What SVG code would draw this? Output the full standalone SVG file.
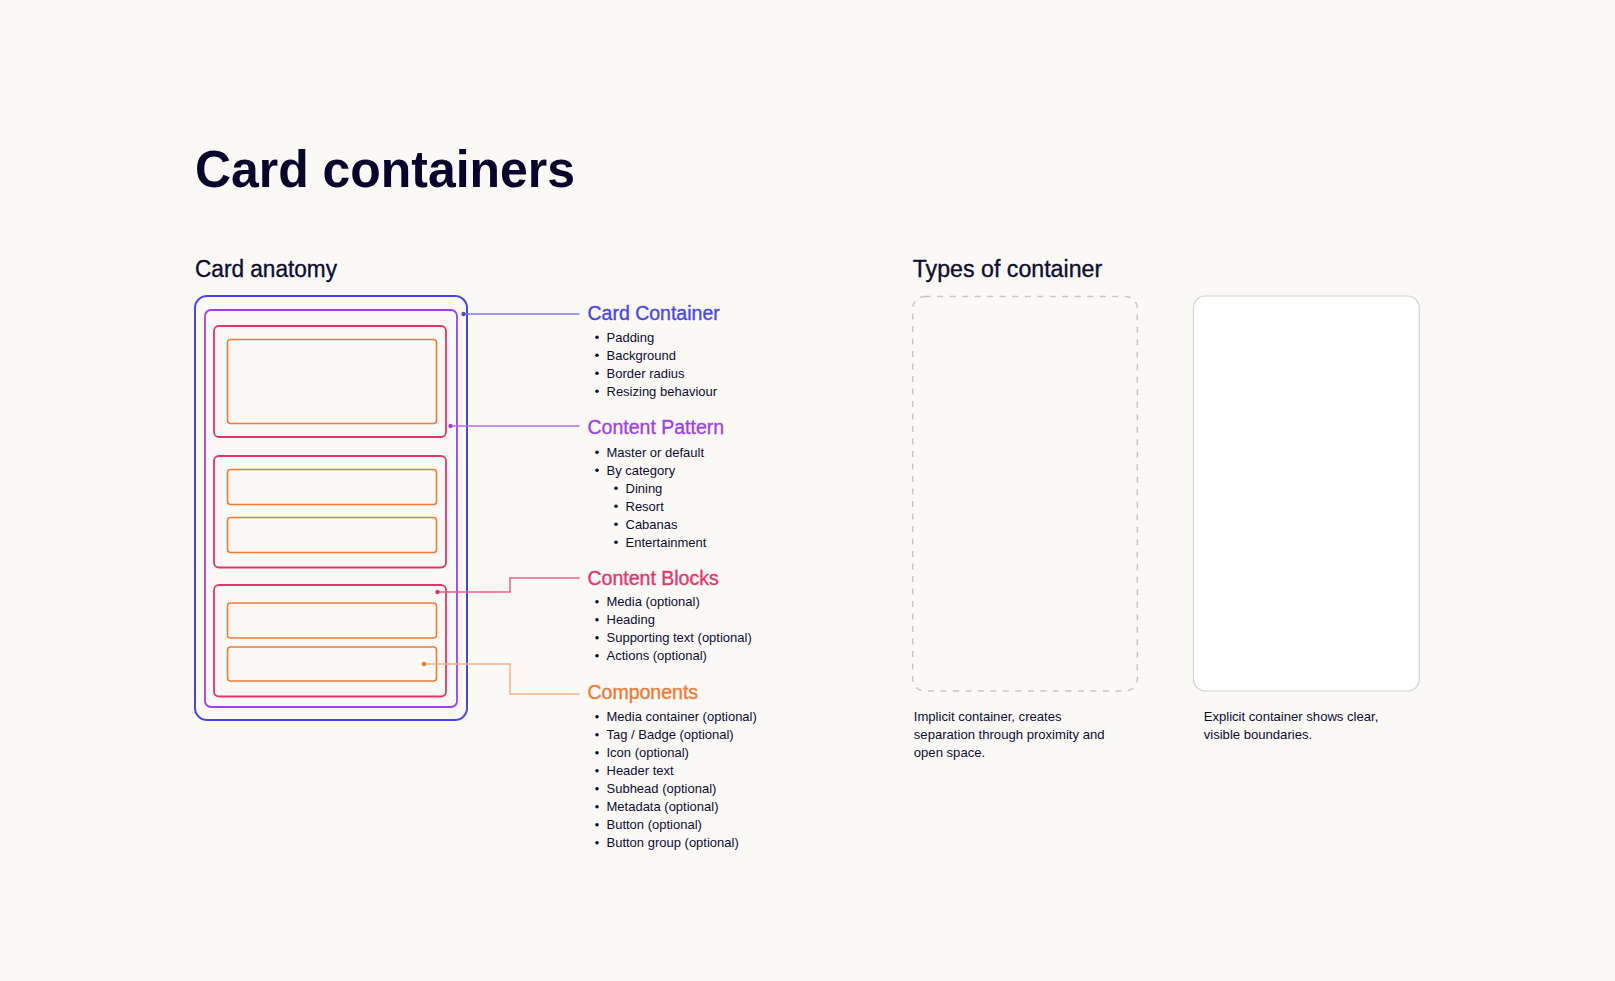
<svg xmlns="http://www.w3.org/2000/svg" width="1615" height="981" viewBox="0 0 1615 981">
<style>
text{font-family:"Liberation Sans",Arial,sans-serif;fill:#0e0d31}
.title{font-size:52px;font-weight:bold;fill:#07052c}
.h2{font-size:23px;stroke:#0e0d31;stroke-width:0.35}
.lbl{font-size:19.5px;stroke-width:0.35}
.b{font-size:13px}
.cap{font-size:13.1px}
circle.bul{fill:#0e0d31}
.conn{fill:none;stroke-width:1.5}
</style>
<rect x="0" y="0" width="1615" height="981" fill="#faf9f6"/>
<text class="title" x="195" y="186.5" textLength="380" lengthAdjust="spacingAndGlyphs">Card containers</text>
<text class="h2" x="195" y="276.7" textLength="142" lengthAdjust="spacingAndGlyphs">Card anatomy</text>
<text class="h2" x="912.7" y="276.7" textLength="189.5" lengthAdjust="spacingAndGlyphs">Types of container</text>

<g id="card-anatomy">
<rect x="195" y="296" width="272" height="424" rx="12" fill="none" stroke="#4b46e6" stroke-width="2"/>
<rect x="205" y="310" width="252" height="397" rx="6" fill="none" stroke="#a23fe6" stroke-width="1.8"/>
<rect x="214" y="326" width="232" height="111" rx="5" fill="none" stroke="#e6336e" stroke-width="1.8"/>
<rect x="227.5" y="339.5" width="209" height="84" rx="3" fill="none" stroke="#ee7a34" stroke-width="1.6"/>
<rect x="214" y="456" width="232" height="111.5" rx="5" fill="none" stroke="#e6336e" stroke-width="1.8"/>
<rect x="227.5" y="469.5" width="209" height="35" rx="3" fill="none" stroke="#ee7a34" stroke-width="1.6"/>
<rect x="227.5" y="517.5" width="209" height="35" rx="3" fill="none" stroke="#ee7a34" stroke-width="1.6"/>
<rect x="214" y="585" width="232" height="111.5" rx="5" fill="none" stroke="#e6336e" stroke-width="1.8"/>
<rect x="227.5" y="603" width="209" height="35" rx="3" fill="none" stroke="#ee7a34" stroke-width="1.6"/>
<rect x="227.5" y="647" width="209" height="34" rx="3" fill="none" stroke="#ee7a34" stroke-width="1.6"/>
</g>

<g id="connectors">
<polyline class="conn" points="463.5,314 579.5,314" stroke="#7b78ee"/>
<circle cx="463.5" cy="314" r="2.2" fill="#4b46e6"/>
<polyline class="conn" points="450.5,426 579.5,426" stroke="#b46bee"/>
<circle cx="450.5" cy="426" r="2.2" fill="#a23fe6"/>
<polyline class="conn" points="437.5,592 510,592 510,578 579.5,578" stroke="#ec5f8e"/>
<circle cx="437.5" cy="592" r="2.2" fill="#e6336e"/>
<polyline class="conn" points="424,664 510,664 510,694 579.5,694" stroke="#f4b088"/>
<circle cx="424" cy="664" r="2.2" fill="#ee7a34"/>
</g>

<g id="card-container-label">
<text class="lbl" x="587.5" y="320" stroke="#4b46e6" style="fill:#4b46e6">Card Container</text>
<circle class="bul" cx="597" cy="337.3" r="1.8"/><text class="b" x="606.5" y="341.7">Padding</text>
<circle class="bul" cx="597" cy="355.3" r="1.8"/><text class="b" x="606.5" y="359.7">Background</text>
<circle class="bul" cx="597" cy="373.3" r="1.8"/><text class="b" x="606.5" y="377.7">Border radius</text>
<circle class="bul" cx="597" cy="391.3" r="1.8"/><text class="b" x="606.5" y="395.7">Resizing behaviour</text>
</g>

<g id="content-pattern-label">
<text class="lbl" x="587.5" y="434" stroke="#a23fe6" style="fill:#a23fe6">Content Pattern</text>
<circle class="bul" cx="597" cy="452.3" r="1.8"/><text class="b" x="606.5" y="456.7">Master or default</text>
<circle class="bul" cx="597" cy="470.3" r="1.8"/><text class="b" x="606.5" y="474.7">By category</text>
<circle class="bul" cx="616" cy="488.3" r="1.8"/><text class="b" x="625.5" y="492.7">Dining</text>
<circle class="bul" cx="616" cy="506.3" r="1.8"/><text class="b" x="625.5" y="510.7">Resort</text>
<circle class="bul" cx="616" cy="524.3" r="1.8"/><text class="b" x="625.5" y="528.7">Cabanas</text>
<circle class="bul" cx="616" cy="542.3" r="1.8"/><text class="b" x="625.5" y="546.7">Entertainment</text>
</g>

<g id="content-blocks-label">
<text class="lbl" x="587.5" y="584.5" stroke="#e6336e" style="fill:#e6336e">Content Blocks</text>
<circle class="bul" cx="597" cy="601.7" r="1.8"/><text class="b" x="606.5" y="606">Media (optional)</text>
<circle class="bul" cx="597" cy="619.7" r="1.8"/><text class="b" x="606.5" y="624">Heading</text>
<circle class="bul" cx="597" cy="637.7" r="1.8"/><text class="b" x="606.5" y="642">Supporting text (optional)</text>
<circle class="bul" cx="597" cy="655.7" r="1.8"/><text class="b" x="606.5" y="660">Actions (optional)</text>
</g>

<g id="components-label">
<text class="lbl" x="587.5" y="699" stroke="#ee7a34" style="fill:#ee7a34">Components</text>
<circle class="bul" cx="597" cy="716.7" r="1.8"/><text class="b" x="606.5" y="721">Media container (optional)</text>
<circle class="bul" cx="597" cy="734.7" r="1.8"/><text class="b" x="606.5" y="739">Tag / Badge (optional)</text>
<circle class="bul" cx="597" cy="752.7" r="1.8"/><text class="b" x="606.5" y="757">Icon (optional)</text>
<circle class="bul" cx="597" cy="770.7" r="1.8"/><text class="b" x="606.5" y="775">Header text</text>
<circle class="bul" cx="597" cy="788.7" r="1.8"/><text class="b" x="606.5" y="793">Subhead (optional)</text>
<circle class="bul" cx="597" cy="806.7" r="1.8"/><text class="b" x="606.5" y="811">Metadata (optional)</text>
<circle class="bul" cx="597" cy="824.7" r="1.8"/><text class="b" x="606.5" y="829">Button (optional)</text>
<circle class="bul" cx="597" cy="842.7" r="1.8"/><text class="b" x="606.5" y="847">Button group (optional)</text>
</g>

<g id="implicit-container">
<rect x="912.7" y="296.5" width="224.6" height="394.5" rx="12" fill="none" stroke="#c7c5ca" stroke-width="1.5" stroke-dasharray="6 6.5"/>
<text class="cap" x="913.8" y="721">Implicit container, creates</text>
<text class="cap" x="913.8" y="739">separation through proximity and</text>
<text class="cap" x="913.8" y="757">open space.</text>
</g>

<g id="explicit-container">
<rect x="1193.5" y="296" width="225.8" height="395" rx="12" fill="#ffffff" stroke="#d4d3d6" stroke-width="1.2"/>
<text class="cap" x="1203.7" y="721">Explicit container shows clear,</text>
<text class="cap" x="1203.7" y="739">visible boundaries.</text>
</g>
</svg>
